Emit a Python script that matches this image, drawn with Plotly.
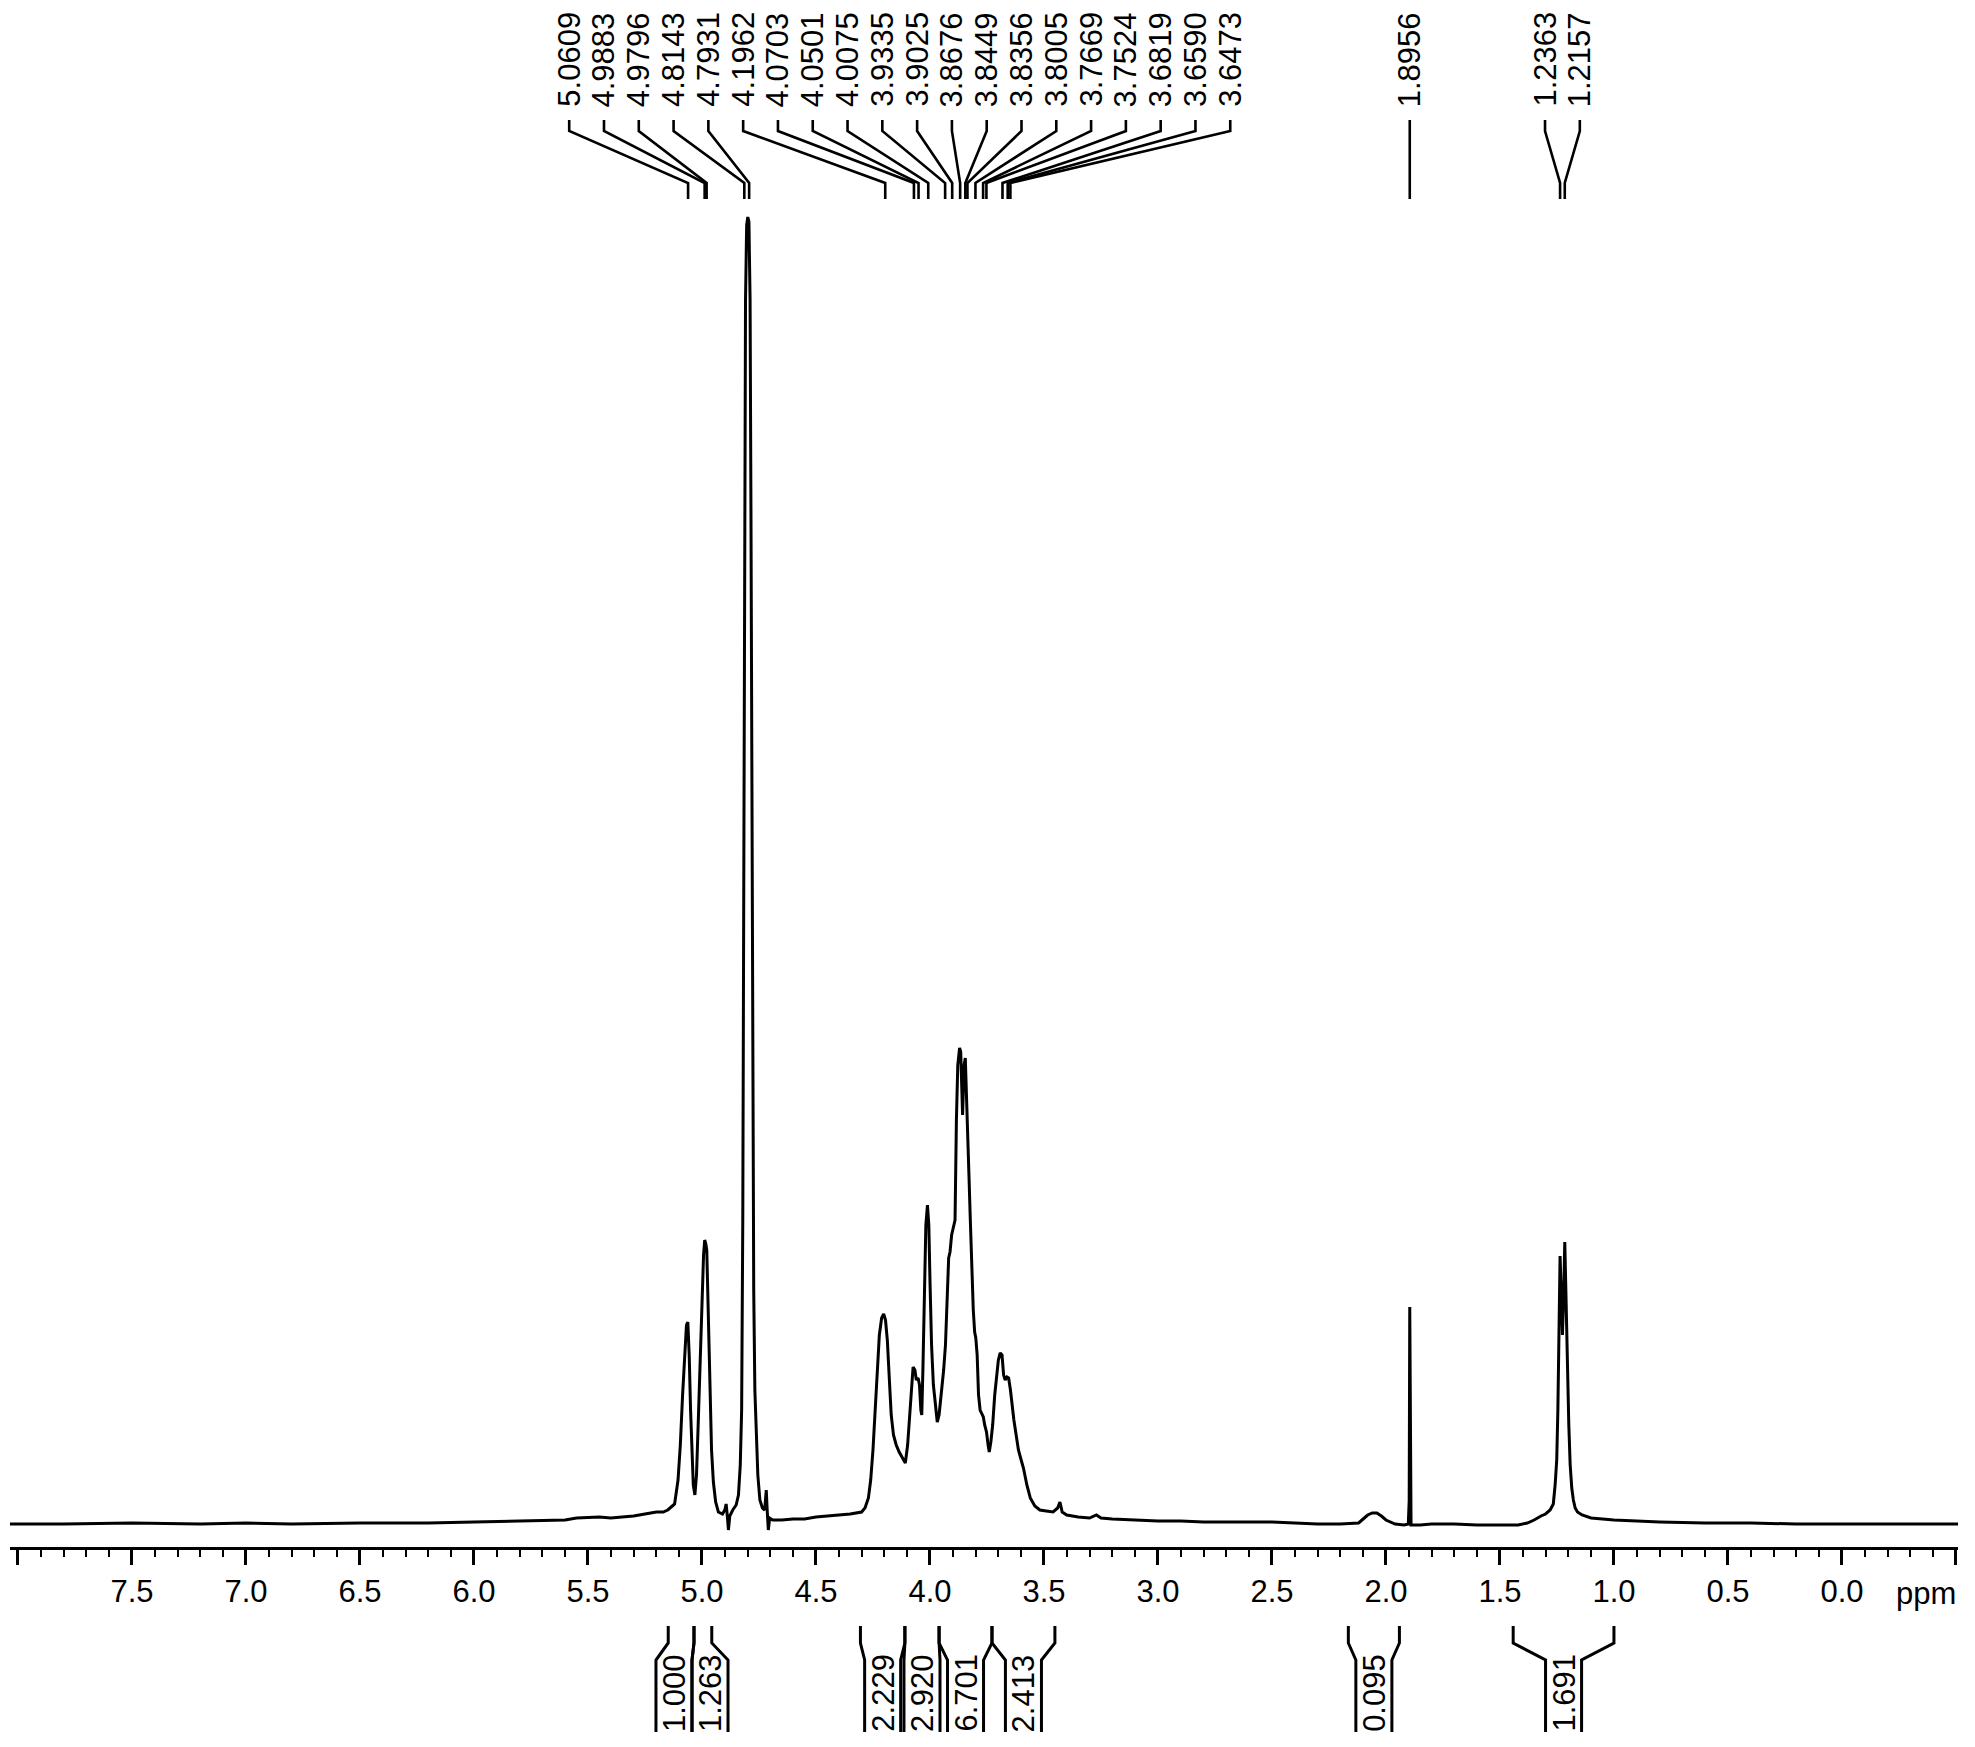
import plotly.graph_objects as go

# ---------------- data ----------------
ppm = [8.035, 7.8, 7.5, 7.2, 7.0, 6.8, 6.5, 6.2, 6.0, 5.8, 5.6, 5.55, 5.45, 5.4, 5.3, 5.25, 5.2, 5.17,
       5.15, 5.13, 5.12, 5.105, 5.095, 5.085, 5.075, 5.068, 5.062, 5.056, 5.05, 5.044, 5.038, 5.031,
       5.024, 5.016, 5.008, 5.0, 4.993, 4.988, 4.983, 4.979, 4.974, 4.966, 4.958, 4.95, 4.94, 4.928,
       4.91, 4.9, 4.894, 4.888, 4.884, 4.878, 4.865, 4.85, 4.84, 4.832, 4.826, 4.821, 4.817, 4.813,
       4.809, 4.804, 4.799, 4.794, 4.789, 4.785, 4.781, 4.777, 4.773, 4.768, 4.762, 4.755, 4.746,
       4.735, 4.725, 4.718, 4.714, 4.709, 4.703, 4.69, 4.65, 4.6, 4.55, 4.5, 4.45, 4.4, 4.35, 4.3,
       4.285, 4.27, 4.26, 4.25, 4.24, 4.232, 4.222, 4.212, 4.203, 4.195, 4.187, 4.178, 4.17, 4.16,
       4.148, 4.135, 4.12, 4.108, 4.098, 4.09, 4.082, 4.074, 4.066, 4.06, 4.052, 4.046, 4.04, 4.036,
       4.031, 4.025, 4.018, 4.011, 4.005, 4.0, 3.993, 3.985, 3.976, 3.968, 3.96, 3.95, 3.94, 3.932,
       3.925, 3.918, 3.912, 3.905, 3.898, 3.89, 3.884, 3.878, 3.87, 3.865, 3.857, 3.85, 3.845, 3.84,
       3.835, 3.829, 3.823, 3.816, 3.81, 3.804, 3.799, 3.793, 3.787, 3.78, 3.772, 3.766, 3.76, 3.752,
       3.745, 3.74, 3.733, 3.725, 3.716, 3.708, 3.7, 3.692, 3.684, 3.677, 3.67, 3.662, 3.655, 3.647,
       3.64, 3.632, 3.622, 3.612, 3.6, 3.59, 3.575, 3.56, 3.54, 3.518, 3.49, 3.46, 3.44, 3.43, 3.42,
       3.4, 3.35, 3.3, 3.27, 3.25, 3.2, 3.1, 3.0, 2.9, 2.8, 2.7, 2.6, 2.5, 2.4, 2.3, 2.2, 2.12, 2.1,
       2.08, 2.06, 2.04, 2.02, 2.0, 1.96, 1.92, 1.902, 1.898, 1.8956, 1.893, 1.89, 1.85, 1.8, 1.7,
       1.6, 1.5, 1.42, 1.38, 1.35, 1.32, 1.3, 1.28, 1.266, 1.258, 1.251, 1.246, 1.241, 1.2363, 1.231,
       1.226, 1.221, 1.2157, 1.211, 1.205, 1.198, 1.192, 1.185, 1.178, 1.17, 1.16, 1.14, 1.1, 1.0,
       0.9, 0.8, 0.6, 0.4, 0.2, 0.0, -0.2, -0.4, -0.509]
intensity = [-4, -4, -3, -4, -3, -4, -3, -3, -2, -1, 0, 2, 3, 2, 4, 6, 8, 8,
             10, 14, 16, 40, 75, 125, 175, 195, 198, 165, 110, 60, 35, 25,
             45, 100, 160, 225, 265, 280, 276, 270, 220, 130, 70, 38, 18, 8,
             6, 10, 16, 2, -10, 4, 10, 15, 25, 55, 110, 300, 650, 1000,
             1220, 1295, 1303, 1298, 1220, 1000, 700, 420, 230, 130, 80, 45, 20,
             12, 10, 30, 10, -10, 2, 0, 0, 1, 1, 3, 4, 5, 6, 8,
             12, 22, 40, 70, 115, 150, 185, 202, 206, 200, 180, 140, 105, 85,
             75, 68, 62, 57, 75, 105, 135, 153, 150, 140, 142, 135, 110, 105,
             150, 220, 295, 315, 295, 240, 175, 135, 112, 98, 105, 125, 150, 175,
             215, 262, 268, 285, 292, 300, 400, 455, 472, 468, 405, 455, 462, 430,
             385, 345, 300, 248, 210, 188, 182, 165, 125, 110, 106, 103, 95, 88,
             75, 68, 78, 95, 125, 145, 160, 167, 165, 145, 140, 143, 142, 130,
             115, 100, 85, 70, 60, 52, 35, 22, 14, 10, 9, 8, 12, 18, 8,
             5, 3, 2, 5, 2, 1, 0, -1, -1, -2, -2, -2, -2, -3, -4, -4, -3, 1,
             5, 7, 7, 4, 0, -4, -5, -4, 20, 213, 20, -5, -5, -4, -4,
             -5, -5, -5, -3, 0, 4, 6, 10, 16, 35, 60, 110, 200, 264, 225,
             185, 220, 278, 230, 150, 95, 55, 32, 20, 12, 8, 5, 2, 0,
             -1, -2, -3, -3, -4, -4, -4, -4, -4]

peak_ppm = [5.0609, 4.9883, 4.9796, 4.8143, 4.7931, 4.1962, 4.0703, 4.0501, 4.0075, 3.9335,
            3.9025, 3.8676, 3.8449, 3.8356, 3.8005, 3.7669, 3.7524, 3.6819, 3.6590, 3.6473,
            1.8956, 1.2363, 1.2157]
peak_text = ["5.0609", "4.9883", "4.9796", "4.8143", "4.7931", "4.1962", "4.0703", "4.0501",
             "4.0075", "3.9335", "3.9025", "3.8676", "3.8449", "3.8356", "3.8005", "3.7669",
             "3.7524", "3.6819", "3.6590", "3.6473", "1.8956", "1.2363", "1.2157"]

int_start = [5.148, 5.035, 4.305, 4.110, 3.960, 3.728, 2.165, 1.442]
int_end = [5.035, 4.957, 4.110, 3.960, 3.728, 3.452, 1.941, 1.000]
int_text = ["1.000", "1.263", "2.229", "2.920", "6.701", "2.413", "0.095", "1.691"]

tick_vals = [8.0, 7.5, 7.0, 6.5, 6.0, 5.5, 5.0, 4.5, 4.0, 3.5, 3.0, 2.5, 2.0, 1.5, 1.0, 0.5, 0.0, -0.5]
tick_text = ["", "7.5", "7.0", "6.5", "6.0", "5.5", "5.0", "4.5", "4.0", "3.5", "3.0", "2.5",
             "2.0", "1.5", "1.0", "0.5", "0.0", ""]

# ---------------- layout constants ----------------
PAGE_W, PAGE_H = 1975, 1747
OFF = 8                      # default page margin of the html body
W, H = PAGE_W - 2 * OFF, PAGE_H - 2 * OFF
X_RANGE = [8.035, -0.509]
PLOT_L, PLOT_R = 10, 1958    # page pixels of the x range ends
BASE = 1520                  # page row of zero intensity; y-units are pixels above it
AXIS_PIX = 1548
FONT = "Liberation Sans, Arial, sans-serif"
LABEL_GAP = 0.1526           # spacing of peak labels (ppm)
CHAN_W = 0.158               # width of integral label channel (ppm)


def Y(pix):
    return BASE - pix


def spread(centers, gap):
    """Cluster labels so they don't overlap; return positions (same order, descending input)."""
    clusters = [[c] for c in centers]
    changed = True
    while changed:
        changed = False
        pos = []
        for cl in clusters:
            m = sum(cl) / len(cl)
            n = len(cl)
            pos.append([m + (n - 1) / 2 * gap - k * gap for k in range(n)])
        for i in range(len(clusters) - 1):
            if pos[i][-1] - pos[i + 1][0] < gap - 1e-9:
                clusters[i] = clusters[i] + clusters[i + 1]
                del clusters[i + 1]
                changed = True
                break
    out = []
    for cl in clusters:
        m = sum(cl) / len(cl)
        n = len(cl)
        out += [m + (n - 1) / 2 * gap - k * gap for k in range(n)]
    return out


fig = go.Figure()

# spectrum
fig.add_trace(go.Scatter(x=ppm, y=intensity, mode="lines",
                         line=dict(color="black", width=3), hoverinfo="skip"))

# peak labels and connectors
label_pos = spread(peak_ppm, LABEL_GAP)
cx, cy = [], []
for p, lp, t in zip(peak_ppm, label_pos, peak_text):
    cx += [lp, lp, p, p, None]
    cy += [Y(120), Y(131), Y(183), Y(199), None]
    fig.add_annotation(x=lp, y=Y(109), text=t, textangle=-90, showarrow=False,
                       xanchor="center", yanchor="bottom", xref="x", yref="y",
                       font=dict(family=FONT, size=31, color="black"))
fig.add_trace(go.Scatter(x=cx, y=cy, mode="lines", line=dict(color="black", width=2.6),
                         hoverinfo="skip"))

# integral brackets
centers = [(a + b) / 2 for a, b in zip(int_start, int_end)]
chan = spread(centers, CHAN_W)
bx, by = [], []
for a, b, c, t in zip(int_start, int_end, chan, int_text):
    left, right = c + CHAN_W / 2, c - CHAN_W / 2
    bx += [a, a, left, left, None, b, b, right, right, None]
    by += [Y(1626), Y(1643), Y(1660), Y(1732), None, Y(1626), Y(1643), Y(1660), Y(1732), None]
    fig.add_annotation(x=c, y=Y(1693), text=t, textangle=-90, showarrow=False,
                       xanchor="center", yanchor="middle", xref="x", yref="y",
                       font=dict(family=FONT, size=31, color="black"))
fig.add_trace(go.Scatter(x=bx, y=by, mode="lines", line=dict(color="black", width=3),
                         hoverinfo="skip"))

# ppm unit label
fig.add_annotation(x=X_RANGE[1], y=Y(1593), text="ppm", showarrow=False, xanchor="right",
                   yanchor="middle", xref="x", yref="y",
                   font=dict(family=FONT, size=31, color="black"))

fig.update_layout(
    width=W, height=H, showlegend=False,
    margin=dict(l=PLOT_L - OFF, r=W - (PLOT_R - OFF), t=0, b=0, pad=0),
    paper_bgcolor="white", plot_bgcolor="white",
    xaxis=dict(range=X_RANGE, anchor="free", position=(PAGE_H - OFF - AXIS_PIX) / H,
               showgrid=False, zeroline=False, showline=True, linecolor="black", linewidth=3,
               ticks="outside", ticklen=15, tickwidth=2.6, tickcolor="black",
               tickmode="array", tickvals=tick_vals, ticktext=tick_text,
               tickfont=dict(family=FONT, size=31, color="black"),
               minor=dict(tickmode="linear", tick0=0, dtick=0.1, ticks="outside", ticklen=7,
                          tickwidth=2.2, tickcolor="black", showgrid=False)),
    yaxis=dict(range=[Y(PAGE_H - OFF), Y(OFF)], domain=[0, 1], visible=False, showgrid=False,
               zeroline=False),
)

fig.write_html("out.html")
